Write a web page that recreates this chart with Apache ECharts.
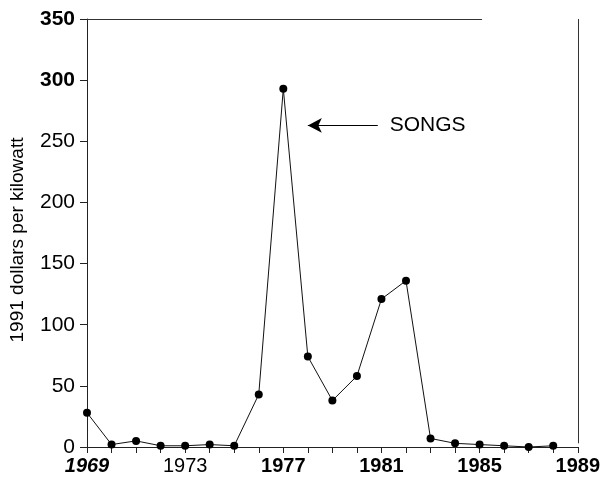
<!DOCTYPE html>
<html>
<head>
<meta charset="utf-8">
<script src="https://cdn.jsdelivr.net/npm/echarts@6/dist/echarts.min.js"></script>
<style>
html,body{margin:0;padding:0;background:#fff;}
#c{width:603px;height:480px;}
</style>
</head>
<body>
<div id="c"></div>
<script>
const years = [1969,1970,1971,1972,1973,1974,1975,1976,1977,1978,1979,1980,1981,1982,1983,1984,1985,1986,1987,1988];
const costs = [28,2,5,1,1,2,1,43,293,74,38,58,121,136,7,3,2,1,0,1];
const yTicks = [0,50,100,150,200,250,300,350];
const xLabelYears = [1969,1973,1977,1981,1985,1989];
const axisTitle = '1991 dollars per kilowatt';
const annotation = 'SONGS';
const annotationArrow = [[1980.85, 263], [1978.0, 263]];

const FONT = "'Liberation Sans Narrow','Liberation Sans',Arial,sans-serif";
const chart = echarts.init(document.getElementById('c'), null, {renderer:'canvas'});
chart.setOption({
  animation:false,
  backgroundColor:'#fff',
  grid:{left:85,right:21,top:19,bottom:33},
  xAxis:{
    type:'value', min:1969, max:1989, interval:1,
    axisLine:{show:true,lineStyle:{color:'#222',width:1}},
    axisTick:{show:true,inside:false,length:6,lineStyle:{color:'#222'}},
    splitLine:{show:false},
    axisLabel:{
      margin:9,
      formatter:function(v){
        if(xLabelYears.indexOf(v)<0) return '';
        if(v===1969) return '{bi|'+v+'}';
        if(v===1973) return '{n|'+v+'}';
        return '{b|'+v+'}';
      },
      rich:{
        bi:{fontFamily:FONT,fontSize:20,fontWeight:'bold',fontStyle:'italic',color:'#000'},
        n:{fontFamily:FONT,fontSize:20,color:'#000'},
        b:{fontFamily:FONT,fontSize:20,fontWeight:'bold',color:'#000'}
      }
    }
  },
  yAxis:{
    type:'value', min:0, max:350, interval:50,
    name:axisTitle, nameLocation:'middle', nameGap:60, nameRotate:90,
    nameTextStyle:{fontFamily:'Liberation Sans,Arial,sans-serif',fontSize:19,color:'#000',padding:[0,0,0,-14]},
    axisLine:{show:true,lineStyle:{color:'#222',width:1}},
    axisTick:{show:true,inside:false,length:7,lineStyle:{color:'#222'}},
    splitLine:{show:false},
    axisLabel:{
      margin:12,
      formatter:function(v){
        if(v===350||v===300) return '{b|'+v+'}';
        return '{n|'+v+'}';
      },
      rich:{
        b:{fontFamily:FONT,fontSize:21,fontWeight:'bold',color:'#000'},
        n:{fontFamily:FONT,fontSize:21,color:'#000'}
      }
    }
  },
  series:[{
    type:'line',
    data:years.map((y,i)=>[y,costs[i]]),
    symbol:'circle', symbolSize:8,
    itemStyle:{color:'#000'},
    lineStyle:{color:'#111',width:1},
    clip:false,
    markLine:{
      silent:true,
      animation:false,
      data:[
        [{coord:[1969,350],symbol:'none',lineStyle:{color:'#333',width:1,type:'solid'},label:{show:false}},
         {coord:[1985.1,350],symbol:'none'}],
        [{coord:[1989,350],symbol:'none',lineStyle:{color:'#333',width:1,type:'solid'},label:{show:false}},
         {coord:[1989,3],symbol:'none'}],
        [{coord:annotationArrow[0],symbol:'none',lineStyle:{color:'#000',width:1,type:'solid'},
          label:{show:true,position:'start',formatter:annotation,fontFamily:'Liberation Sans,Arial,sans-serif',fontSize:21,color:'#000',distance:12}},
         {coord:annotationArrow[1],symbol:'arrow',symbolSize:[11,14]}]
      ]
    }
  }]
});
</script>
</body>
</html>
